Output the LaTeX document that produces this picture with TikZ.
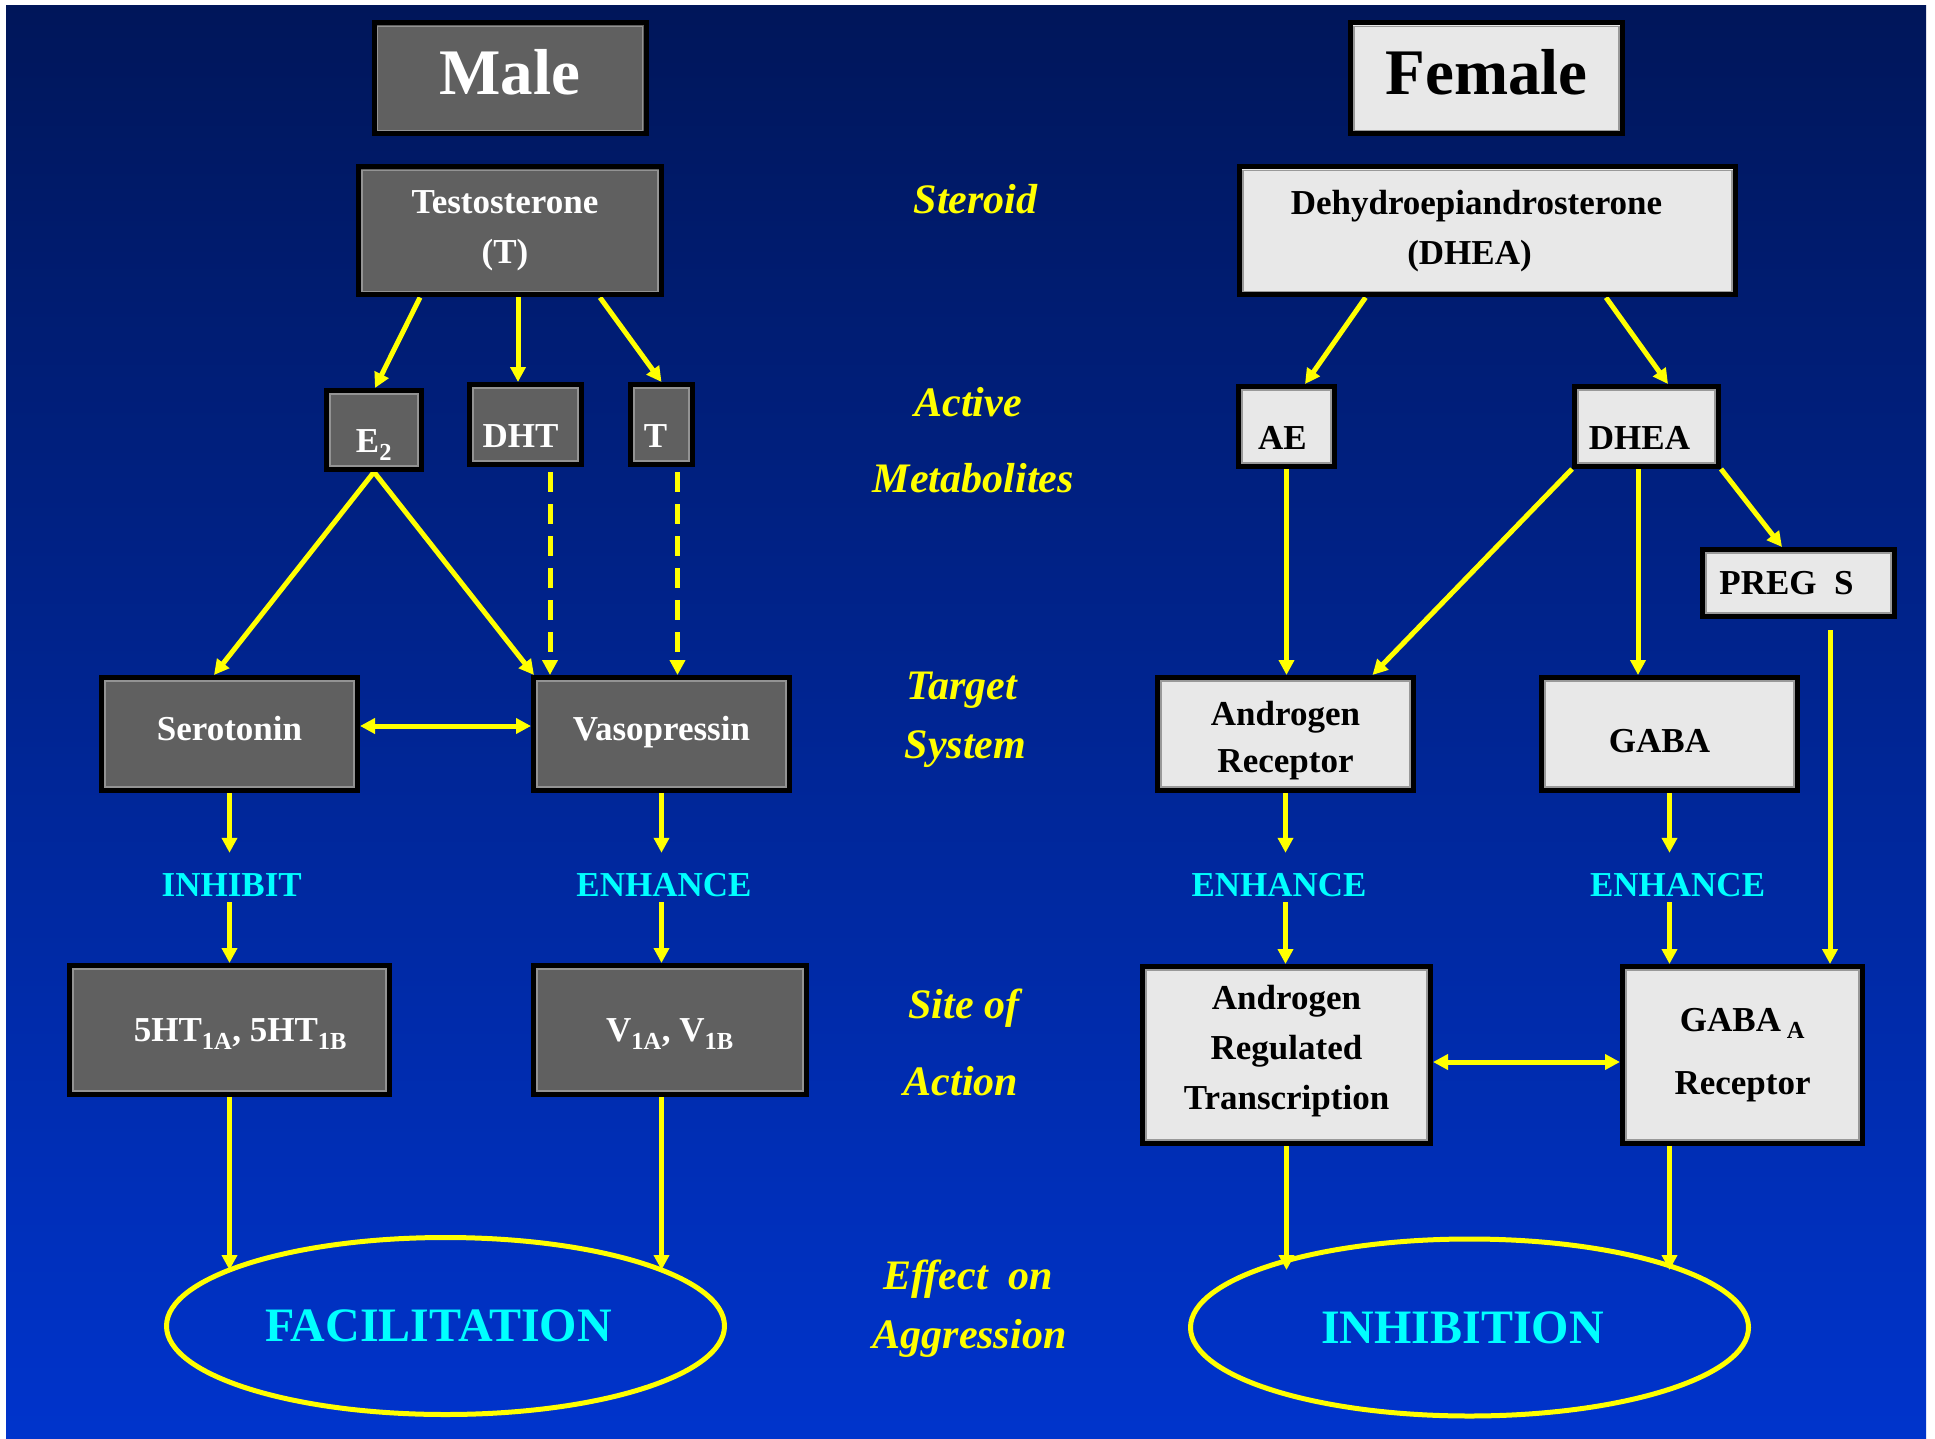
\documentclass[tikz,border=0pt]{standalone}
\usepackage{fontspec}
\setmainfont{Liberation Serif}
\usetikzlibrary{arrows.meta,shapes.geometric}
\definecolor{bgtop}{RGB}{0,22,90}
\definecolor{bgbot}{RGB}{0,52,204}
\definecolor{boxdark}{RGB}{96,96,96}
\definecolor{boxlight}{RGB}{232,232,232}
\definecolor{yel}{RGB}{255,255,0}
\definecolor{cyn}{RGB}{0,255,255}
\pgfdeclarelayer{back}
\pgfdeclarelayer{links}
\pgfsetlayers{back,links,main}
\begin{document}
\begin{tikzpicture}[x=1pt,y=-1pt,
  >={Triangle[width=15pt,length=15pt]},
  inset/.style={path picture={\draw[line width=1.5pt,#1]
     ([shift={(3.5pt,3.5pt)}]path picture bounding box.south west) rectangle
     ([shift={(-3.5pt,-3.5pt)}]path picture bounding box.north east);}},
  box/.style={rectangle, draw=black, line width=5pt, inner sep=0pt, align=center,
     font=\fontsize{35}{50}\selectfont\bfseries},
  mbox/.style={box, fill=boxdark, text=white, inset=gray!85!white},
  fbox/.style={box, fill=boxlight, text=black, inset=gray!80},
  small/.style={text height=45pt, text depth=0pt},
  low/.style={text height=37pt, text depth=0pt},
  mid/.style={text height=24pt, text depth=12pt},
  flat/.style={text height=23.5pt, text depth=0pt},
  title/.style={font=\fontsize{65}{70}\selectfont\bfseries, text depth=14pt},
  ell/.style={ellipse, draw=yel, line width=5pt, inner sep=0pt,
     minimum width=558pt, minimum height=177pt, text=cyn,
     font=\fontsize{48}{56}\selectfont\bfseries, text height=31.8pt, text depth=0pt},
  cyanlab/.style={text=cyn, font=\fontsize{35}{42}\selectfont\bfseries, anchor=base,
     inner sep=0pt, text height=43.6pt, text depth=5.4pt},
  ital/.style={text=yel, font=\fontsize{42}{50}\selectfont\bfseries\itshape,
     anchor=base, inner sep=0pt},
  arr/.style={draw=yel, line width=5pt, ->},
  arrboth/.style={draw=yel, line width=5pt, <->},
  dsh/.style={arr, dash pattern=on 20pt off 12pt}
]
\useasboundingbox (0,0) rectangle (1935,1439);
\begin{pgfonlayer}{back}
\fill[white] (0,0) rectangle (1935,1439);
\shade[top color=bgtop, bottom color=bgbot] (6,6) rectangle (1926,1439);
\end{pgfonlayer}

% titles
\node[mbox, title, minimum width=272pt, minimum height=111pt] (male) at (510,78.5) {Male};
\node[fbox, title, minimum width=272pt, minimum height=111pt] (female) at (1486.5,78.5) {Female};

% steroids
\node[mbox, minimum width=303pt, minimum height=128pt] (test) at (510,231) {\hspace*{-10pt}Testosterone\\\hspace*{-10pt}(T)};
\node[fbox, minimum width=496pt, minimum height=128pt] (dhea) at (1487.5,231) {\hspace*{-22pt}Dehydroepiandrosterone\\\hspace*{-36pt}(DHEA)};

% metabolites
\node[mbox, small, minimum width=95pt, minimum height=79pt] (e2) at (374,430) {E\textsubscript{2}};
\node[mbox, small, minimum width=112pt, minimum height=80pt] (dht) at (525.5,424.5) {\hspace*{-10pt}DHT};
\node[mbox, small, minimum width=62pt, minimum height=80pt] (tm) at (661.5,424.5) {\hspace*{-12pt}T};
\node[fbox, small, minimum width=96pt, minimum height=80pt] (ae) at (1286.5,426.5) {\hspace*{-8pt}AE};
\node[fbox, small, minimum width=144pt, minimum height=80pt] (dheam) at (1646.5,426.5) {\hspace*{-14pt}DHEA};
\node[fbox, minimum width=192pt, minimum height=67pt] (pregs) at (1798.5,583) {\hspace*{-24pt}PREG\ \ S};

% target systems
\node[mbox, mid, minimum width=256pt, minimum height=113pt] (sero) at (229.5,734) {Serotonin};
\node[mbox, mid, minimum width=256pt, minimum height=113pt] (vaso) at (661.5,734) {Vasopressin};
\node[fbox, minimum width=256pt, minimum height=113pt] (ar) at (1285.5,734) {\rule{0pt}{38pt}Androgen\\[-3pt]Receptor};
\node[fbox, low, minimum width=256pt, minimum height=113pt] (gaba) at (1669.5,734) {\hspace*{-20pt}GABA};

% sites of action
\node[mbox, flat, minimum width=320pt, minimum height=129pt] (fht) at (229.5,1030) {\hspace*{22pt}5HT\textsubscript{1A}, 5HT\textsubscript{1B}};
\node[mbox, flat, minimum width=273pt, minimum height=129pt] (v1) at (670,1030) {V\textsubscript{1A}, V\textsubscript{1B}};
\node[fbox, minimum width=288pt, minimum height=177pt] (art) at (1286.5,1055) {Androgen\\Regulated\\Transcription\rule[-15pt]{0pt}{15pt}};
\node[fbox, minimum width=240pt, minimum height=177pt] (gabaa) at (1742.5,1055) {GABA\,\textsubscript{A}\\[13pt]Receptor};

% effects
\node[ell] (fac) at (445.5,1326) {\hspace*{-14pt}FACILITATION};
\node[ell] (inh) at (1469.5,1327.5) {\hspace*{-14pt}INHIBITION};

% cyan labels
\node[cyanlab] (l1) at (231.7,896.6) {INHIBIT};
\node[cyanlab] (l2) at (664,896.6) {ENHANCE};
\node[cyanlab] (l3) at (1279,896.6) {ENHANCE};
\node[cyanlab] (l4) at (1677.6,896.6) {ENHANCE};

% middle column labels
\node[ital] (c1) at (975.7,214) {Steroid};
\node[ital] (c2) at (968,416) {Active};
\node[ital] (c3) at (973.3,492) {Metabolites};
\node[ital] (c4) at (961.7,699) {Target};
\node[ital] (c5) at (965.5,758) {System};
\node[ital] (c6) at (963.8,1018) {Site of};
\node[ital] (c7) at (961,1095) {Action};
\node[ital] (c8) at (968.3,1289) {Effect\ \ on};
\node[ital] (c9) at (969.5,1348) {Aggression};

\coordinate (fa) at (229.5,1270);
\coordinate (fb) at (661.5,1270);
\coordinate (ia) at (1286.5,1270);
\coordinate (ib) at (1669.5,1270);

\begin{pgfonlayer}{links}
% male side
\draw[arr] ([xshift=-90pt]test.south) -- ([xshift=1pt]e2.north);
\draw[arr] ([xshift=8pt]test.south) -- ([xshift=-7.5pt]dht.north);
\draw[arr] ([xshift=90pt]test.south) -- (tm.north);
\draw[arr] (e2.south) -- ([xshift=-15.5pt]sero.north);
\draw[arr] (e2.south) -- ([xshift=3pt]vaso.north west);
\draw[dsh, shorten <=5pt] ([xshift=24.5pt]dht.south) -- ([xshift=-111.5pt]vaso.north);
\draw[dsh, shorten <=5pt] ([xshift=16pt]tm.south) -- ([xshift=16pt]vaso.north);
\draw[arrboth] ([yshift=8pt]sero.east) -- ([yshift=8pt]vaso.west);
\draw[arr] (sero.south) -- (sero.south |- l1.north);
\draw[arr] (sero.south |- l1.south) -- (fht.north);
\draw[arr] (vaso.south) -- (vaso.south |- l2.north);
\draw[arr] (vaso.south |- l2.south) -- (vaso.south |- v1.north);
\draw[arr] (fht.south) -- (fa);
\draw[arr] (vaso.south |- v1.south) -- (fb);
% female side
\draw[arr] ([xshift=-122pt]dhea.south) -- ([xshift=18.5pt]ae.north);
\draw[arr] ([xshift=118.5pt]dhea.south) -- ([xshift=21.5pt]dheam.north);
\draw[arr] (ae.south) -- (ae.south |- ar.north);
\draw[arr] (dheam.south west) -- ([xshift=-43.5pt]ar.north east);
\draw[arr] ([xshift=-8.5pt]dheam.south) -- ([xshift=-31.5pt]gaba.north);
\draw[arr] (dheam.south east) -- ([xshift=-16.5pt]pregs.north);
\draw[arr, shorten <=11pt] ([xshift=31.5pt]pregs.south) -- ([xshift=87.5pt]gabaa.north);
\draw[arr] (ar.south) -- (ar.south |- l3.north);
\draw[arr] (ar.south |- l3.south) -- (ar.south |- art.north);
\draw[arr] (gaba.south) -- (gaba.south |- l4.north);
\draw[arr] (gaba.south |- l4.south) -- (gaba.south |- gabaa.north);
\draw[arrboth] ([yshift=-7pt]art.east) -- ([yshift=-7pt]gabaa.west);
\draw[arr] (art.south) -- (ia);
\draw[arr] (gaba.south |- gabaa.south) -- (ib);
\end{pgfonlayer}
\end{tikzpicture}
\end{document}
